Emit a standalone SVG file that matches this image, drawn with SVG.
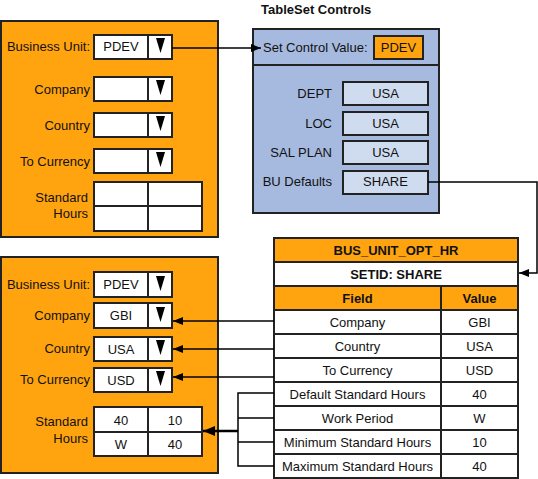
<svg xmlns="http://www.w3.org/2000/svg" width="538" height="479" viewBox="0 0 538 479">
<defs>
<marker id="ah" viewBox="0 0 10 8" refX="10" refY="4" markerWidth="10" markerHeight="8" markerUnits="userSpaceOnUse" orient="auto"><path d="M0,0 L10,4 L0,8 z" fill="#000"/></marker>
<marker id="ahb" viewBox="0 0 12 10" refX="12" refY="5" markerWidth="12" markerHeight="10" markerUnits="userSpaceOnUse" orient="auto"><path d="M0,0 L12,5 L0,10 z" fill="#000"/></marker>
</defs>
<style>
text{font-family:"Liberation Sans",Arial,sans-serif;font-size:13px;fill:#111}
.r{text-anchor:end}
.m{text-anchor:middle}
.b{font-weight:bold}
.panel{fill:#FFA40F;stroke:#222;stroke-width:2}
.fld{fill:#fff;stroke:#222;stroke-width:2}
.bpanel{fill:#A6B9DF;stroke:#222;stroke-width:2}
.bfld{fill:#CFDBEF;stroke:#222;stroke-width:2}
.ofld{fill:#FFA40F;stroke:#222;stroke-width:2}
.cell{fill:#fff;stroke:#222;stroke-width:2}
.hcell{fill:#FFA40F;stroke:#222;stroke-width:2}
.tri{fill:#000}
.ln{fill:none;stroke:#000;stroke-width:1.5}
</style>

<g id="top-panel">
<rect class="panel" x="1" y="21" width="217" height="216"/>
<text class="r" x="90" y="51">Business Unit:</text>
<rect class="fld" x="94" y="35" width="78" height="24"/><line class="fld" x1="148" y1="35" x2="148" y2="59"/>
<text class="m" x="121" y="51">PDEV</text>
<path class="tri" d="M156,38 L165,38 L160.5,53 z"/>
<text class="r" x="90" y="94">Company</text>
<rect class="fld" x="94" y="77" width="78" height="24"/><line class="fld" x1="148" y1="77" x2="148" y2="101"/>
<path class="tri" d="M156,80 L165,80 L160.5,95 z"/>
<text class="r" x="90" y="130">Country</text>
<rect class="fld" x="94" y="113" width="78" height="24"/><line class="fld" x1="148" y1="113" x2="148" y2="137"/>
<path class="tri" d="M156,116 L165,116 L160.5,131 z"/>
<text class="r" x="90" y="166">To Currency</text>
<rect class="fld" x="94" y="149" width="78" height="24"/><line class="fld" x1="148" y1="149" x2="148" y2="173"/>
<path class="tri" d="M156,152 L165,152 L160.5,167 z"/>
<text class="r" x="88" y="202">Standard</text>
<text class="r" x="88" y="218">Hours</text>
<rect class="fld" x="94" y="182" width="108" height="49"/>
<line class="fld" x1="148" y1="182" x2="148" y2="231"/><line class="fld" x1="94" y1="206" x2="202" y2="206"/>
</g>

<g id="bottom-panel">
<rect class="panel" x="1" y="257" width="217" height="216"/>
<text class="r" x="90" y="289">Business Unit:</text>
<rect class="fld" x="94" y="272" width="78" height="25"/><line class="fld" x1="148" y1="272" x2="148" y2="297"/>
<text class="m" x="121" y="289">PDEV</text>
<path class="tri" d="M156,276 L165,276 L160.5,291 z"/>
<text class="r" x="90" y="320">Company</text>
<rect class="fld" x="94" y="303" width="78" height="25"/><line class="fld" x1="148" y1="303" x2="148" y2="328"/>
<text class="m" x="121" y="320">GBI</text>
<path class="tri" d="M156,307 L165,307 L160.5,322 z"/>
<text class="r" x="90" y="353">Country</text>
<rect class="fld" x="94" y="337" width="78" height="24"/><line class="fld" x1="148" y1="337" x2="148" y2="361"/>
<text class="m" x="121" y="354">USA</text>
<path class="tri" d="M156,340 L165,340 L160.5,355 z"/>
<text class="r" x="90" y="384">To Currency</text>
<rect class="fld" x="94" y="368" width="78" height="24"/><line class="fld" x1="148" y1="368" x2="148" y2="392"/>
<text class="m" x="121" y="385">USD</text>
<path class="tri" d="M156,371 L165,371 L160.5,386 z"/>
<text class="r" x="88" y="426">Standard</text>
<text class="r" x="88" y="443">Hours</text>
<rect class="fld" x="94" y="407" width="108" height="49"/>
<line class="fld" x1="148" y1="407" x2="148" y2="456"/><line class="fld" x1="94" y1="432" x2="202" y2="432"/>
<text class="m" x="121" y="425">40</text>
<text class="m" x="175" y="425">10</text>
<text class="m" x="121" y="449">W</text>
<text class="m" x="175" y="449">40</text>
</g>

<g id="tableset-controls">
<text class="b" x="261" y="14">TableSet Controls</text>
<rect class="bpanel" x="253" y="29" width="186" height="184"/>
<line class="bpanel" x1="253" y1="65" x2="439" y2="65"/>
<text x="263" y="52">Set Control Value:</text>
<rect class="ofld" x="374" y="36" width="49" height="23"/>
<text class="m" x="398.5" y="52">PDEV</text>
<text class="r" x="332" y="98">DEPT</text>
<rect class="bfld" x="343" y="82" width="85" height="23"/>
<text class="m" x="385.5" y="98">USA</text>
<text class="r" x="332" y="128">LOC</text>
<rect class="bfld" x="343" y="112" width="85" height="23"/>
<text class="m" x="385.5" y="128">USA</text>
<text class="r" x="332" y="157">SAL PLAN</text>
<rect class="bfld" x="343" y="141" width="85" height="23"/>
<text class="m" x="385.5" y="157">USA</text>
<text class="r" x="332" y="186">BU Defaults</text>
<rect class="bfld" x="343" y="171" width="85" height="23"/>
<text class="m" x="385.5" y="186">SHARE</text>
</g>

<g id="bus-unit-opt-hr">
<rect class="hcell" x="274" y="238" width="244" height="24"/>
<text class="m b" x="396" y="255">BUS_UNIT_OPT_HR</text>
<rect class="cell" x="274" y="262" width="244" height="24"/>
<text class="m b" x="396" y="279">SETID: SHARE</text>
<rect class="hcell" x="274" y="286" width="167" height="24"/>
<rect class="hcell" x="441" y="286" width="77" height="24"/>
<text class="m b" x="357.5" y="303">Field</text>
<text class="m b" x="479.5" y="303">Value</text>
<rect class="cell" x="274" y="310" width="167" height="24"/><rect class="cell" x="441" y="310" width="77" height="24"/>
<text class="m" x="357.5" y="327">Company</text><text class="m" x="479.5" y="327">GBI</text>
<rect class="cell" x="274" y="334" width="167" height="24"/><rect class="cell" x="441" y="334" width="77" height="24"/>
<text class="m" x="357.5" y="351">Country</text><text class="m" x="479.5" y="351">USA</text>
<rect class="cell" x="274" y="358" width="167" height="24"/><rect class="cell" x="441" y="358" width="77" height="24"/>
<text class="m" x="357.5" y="375">To Currency</text><text class="m" x="479.5" y="375">USD</text>
<rect class="cell" x="274" y="382" width="167" height="24"/><rect class="cell" x="441" y="382" width="77" height="24"/>
<text class="m" x="357.5" y="399">Default Standard Hours</text><text class="m" x="479.5" y="399">40</text>
<rect class="cell" x="274" y="406" width="167" height="24"/><rect class="cell" x="441" y="406" width="77" height="24"/>
<text class="m" x="357.5" y="423">Work Period</text><text class="m" x="479.5" y="423">W</text>
<rect class="cell" x="274" y="430" width="167" height="24"/><rect class="cell" x="441" y="430" width="77" height="24"/>
<text class="m" x="357.5" y="447">Minimum Standard Hours</text><text class="m" x="479.5" y="447">10</text>
<rect class="cell" x="274" y="454" width="167" height="24"/><rect class="cell" x="441" y="454" width="77" height="24"/>
<text class="m" x="357.5" y="471">Maximum Standard Hours</text><text class="m" x="479.5" y="471">40</text>
</g>

<g id="connectors">
<line class="ln" x1="172" y1="48" x2="261" y2="48" marker-end="url(#ah)"/>
<polyline class="ln" points="428,182 537,182 537,273 519,273" marker-end="url(#ah)"/>
<line class="ln" x1="274" y1="321" x2="173" y2="321" marker-end="url(#ah)"/>
<line class="ln" x1="274" y1="349" x2="173" y2="349" marker-end="url(#ah)"/>
<line class="ln" x1="274" y1="377" x2="173" y2="377" marker-end="url(#ah)"/>
<polyline class="ln" points="274,393 238,393 238,466 274,466"/>
<line class="ln" x1="238" y1="418" x2="274" y2="418"/>
<line class="ln" x1="238" y1="442" x2="274" y2="442"/>
<line x1="238" y1="431" x2="203" y2="431" stroke="#000" stroke-width="2.5" marker-end="url(#ahb)"/>
</g>
</svg>
